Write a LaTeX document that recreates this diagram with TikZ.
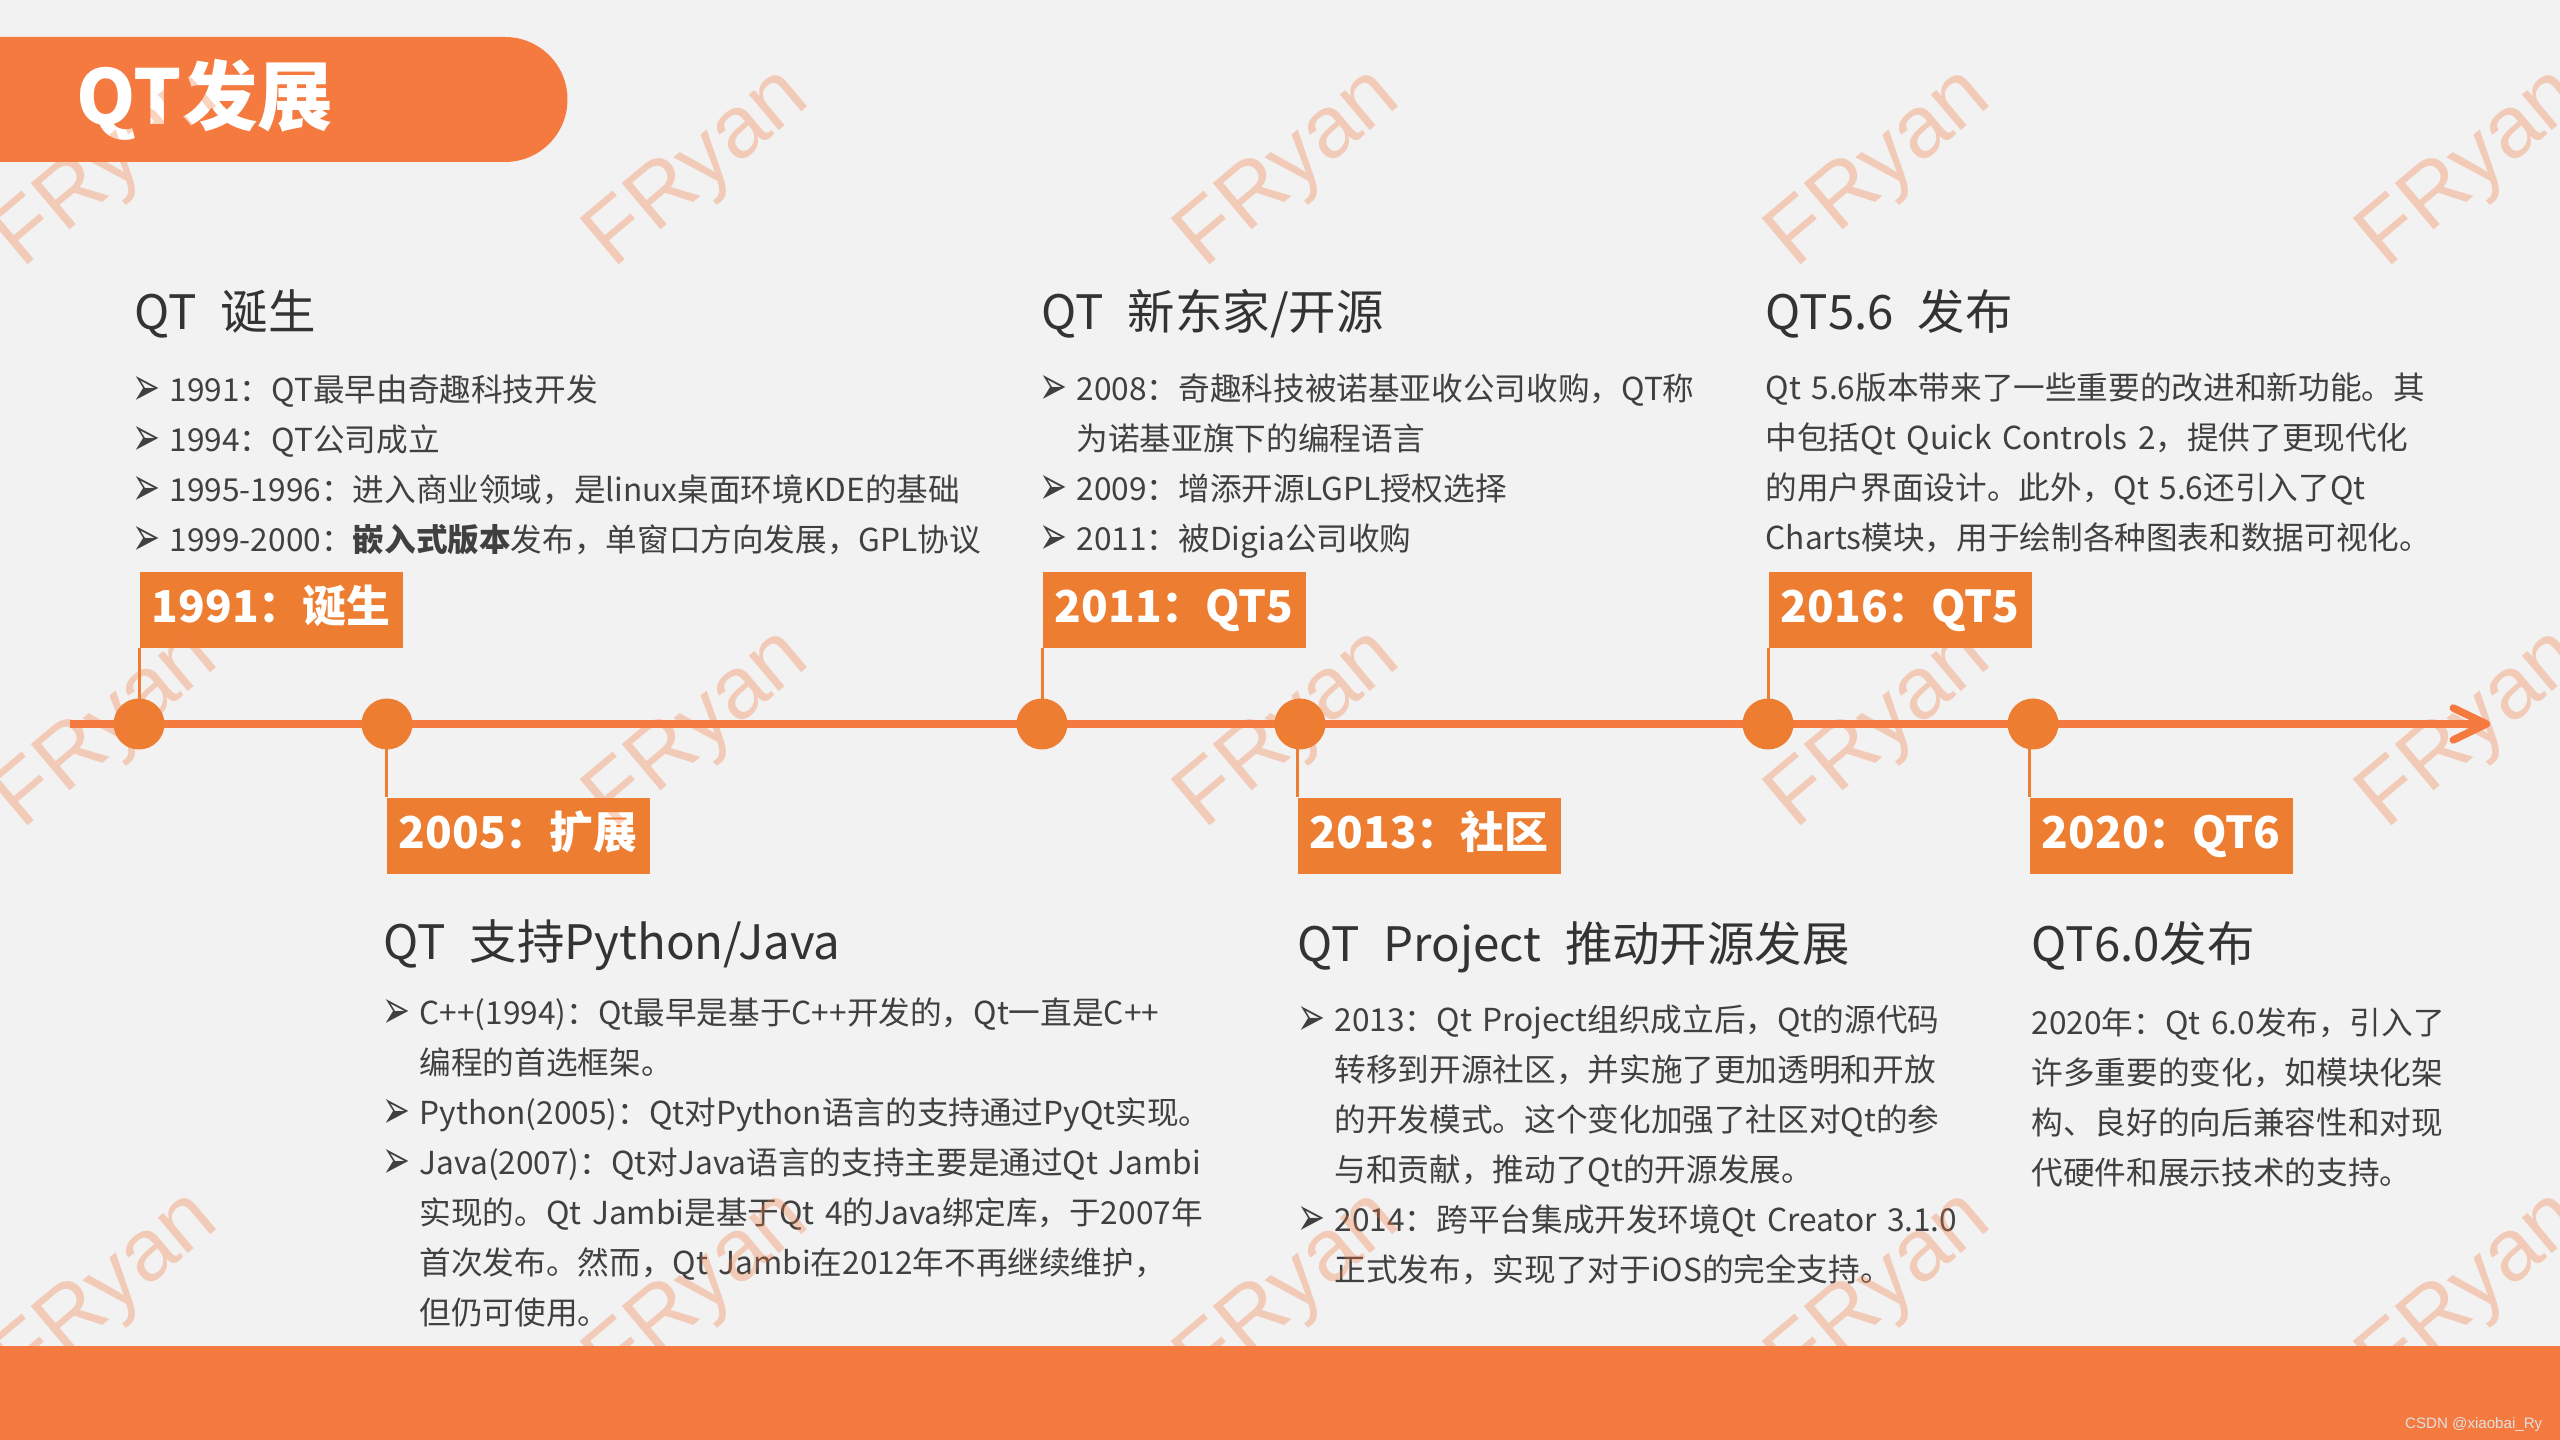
\documentclass[tikz,border=0pt]{standalone}
\usepackage{graphicx}
\usepackage{fontspec}
\setmainfont{Noto Sans CJK SC}
\newfontfamily\bulletfont{DejaVu Sans}
\newfontfamily\wmfont{Liberation Sans}
\usetikzlibrary{arrows.meta}
\definecolor{qtorange}{HTML}{F47A40}
\definecolor{boxorange}{HTML}{ED7D31}
\definecolor{pagegray}{HTML}{F2F2F2}
\definecolor{headgray}{HTML}{333333}
\definecolor{bodygray}{HTML}{404040}
\newcommand{\bul}{\makebox[3.5mm][l]{\hspace*{-0.2mm}\raisebox{-0.4mm}{\resizebox{2.8mm}{2.9mm}{\bulletfont ➢}}}}
\newcommand{\contline}{\hspace*{3.5mm}}
\newcommand{\wgap}{\hspace{0.5em}}

\begin{document}
\begin{tikzpicture}[x=0.1mm,y=-0.1mm,
    axis/.style={draw=qtorange,line width=0.75mm,-{Straight Barb[length=3.3mm,width=3.2mm,round]}},
    dot/.style={circle,fill=boxorange,minimum size=5.1mm,inner sep=0pt},
    yearbox/.style={anchor=north west,fill=boxorange,text=white,minimum width=26.3mm,minimum height=7.6mm,inner sep=0pt,text height=0.73em,text depth=0pt,font=\fontsize{12.5pt}{15pt}\selectfont\bfseries},
    stem/.style={draw=boxorange,line width=0.3mm},
    head/.style={anchor=base west,inner sep=0pt,text=headgray,font=\fontsize{13.5pt}{16pt}\selectfont},
    body/.style={anchor=base west,inner sep=0pt,text width=95mm,align=left,text=bodygray,font=\fontsize{9pt}{14.2pt}\selectfont},
    wmark/.style={anchor=base,rotate=40,inner sep=0pt,text=qtorange,text opacity=0.32,font=\wmfont\fontsize{25pt}{25pt}\selectfont}]
    \path[use as bounding box,fill=pagegray](0,0)rectangle(2560,1440);
    \fill[qtorange](0,37)--(505,37)arc[start angle=90,end angle=-90,radius=6.25mm]--(0,162)--cycle;
    \node[anchor=base west,inner sep=0pt,text=white,font=\fontsize{21.5pt}{22pt}\selectfont\bfseries](title) at(76,125){QT发展};
    \fill[qtorange](0,1346)rectangle(2560,1440);

    \coordinate(tstart) at(70,724);
    \coordinate(tend) at(2490,724);
    \draw[axis](tstart)--(tend);

    \node[dot](d1991) at(139,724){};
    \node[dot](d2005) at(387,724){};
    \node[dot](d2011) at(1042,724){};
    \node[dot](d2013) at(1300,724){};
    \node[dot](d2016) at(1768,724){};
    \node[dot](d2020) at(2033,724){};

    \node[yearbox](y1991) at(139,571){1991：诞生};
    \node[yearbox](y2011) at(1042,571){2011：QT5};
    \node[yearbox](y2016) at(1768,571){2016：QT5};
    \node[yearbox](y2005) at(386,797){2005：扩展};
    \node[yearbox](y2013) at(1297,797){2013：社区};
    \node[yearbox](y2020) at(2029,797){2020：QT6};

    \draw[stem](y1991.south west)--(y1991.south west |- d1991.center);
    \draw[stem](y2011.south west)--(y2011.south west |- d2011.center);
    \draw[stem](y2016.south west)--(y2016.south west |- d2016.center);
    \draw[stem](y2005.north west)--(y2005.north west |- d2005.center);
    \draw[stem](y2013.north west)--(y2013.north west |- d2013.center);
    \draw[stem](y2020.north west)--(y2020.north west |- d2020.center);

    \node[head](h1991) at(134,330){QT\wgap 诞生};
    \node[body](t1991) at(134,402){\bul 1991：QT最早由奇趣科技开发\\
        \bul 1994：QT公司成立\\
        \bul 1995-1996：进入商业领域，是linux桌面环境KDE的基础\\
        \bul 1999-2000：\textbf{嵌入式版本}发布，单窗口方向发展，GPL协议};

    \node[head](h2011) at(1041,330){QT\wgap 新东家/开源};
    \node[body](t2011) at(1041,401){\bul 2008：奇趣科技被诺基亚收公司收购，QT称\\
        \contline 为诺基亚旗下的编程语言\\
        \bul 2009：增添开源LGPL授权选择\\
        \bul 2011：被Digia公司收购};

    \node[head](h2016) at(1765,330){QT5.6\wgap 发布};
    \node[body](t2016) at(1765,400){Qt 5.6版本带来了一些重要的改进和新功能。其\\
        中包括Qt Quick Controls 2，提供了更现代化\\
        的用户界面设计。此外，Qt 5.6还引入了Qt\\
        Charts模块，用于绘制各种图表和数据可视化。};

    \node[head](h2005) at(383,960){QT\wgap 支持Python/Java};
    \node[body](t2005) at(384,1025){\bul C++(1994)：Qt最早是基于C++开发的，Qt一直是C++\\
        \contline 编程的首选框架。\\
        \bul Python(2005)：Qt对Python语言的支持通过PyQt实现。\\
        \bul Java(2007)：Qt对Java语言的支持主要是通过Qt Jambi\\
        \contline 实现的。Qt Jambi是基于Qt 4的Java绑定库，于2007年\\
        \contline 首次发布。然而，Qt Jambi在2012年不再继续维护，\\
        \contline 但仍可使用。};

    \node[head](h2013) at(1297,962){QT\wgap Project\wgap 推动开源发展};
    \node[body](t2013) at(1299,1032){\bul 2013：Qt Project组织成立后，Qt的源代码\\
        \contline 转移到开源社区，并实施了更加透明和开放\\
        \contline 的开发模式。这个变化加强了社区对Qt的参\\
        \contline 与和贡献，推动了Qt的开源发展。\\
        \bul 2014：跨平台集成开发环境Qt Creator 3.1.0\\
        \contline 正式发布，实现了对于iOS的完全支持。};

    \node[head](h2020) at(2031,962){QT6.0发布};
    \node[body](t2020) at(2031,1035){2020年：Qt 6.0发布，引入了\\
        许多重要的变化，如模块化架\\
        构、良好的向后兼容性和对现\\
        代硬件和展示技术的支持。};

    \foreach \wx in {122,713,1304,1895,2486}
        \foreach \wy in {186,747,1309}
            \node[wmark](fr\wx\wy) at(\wx,\wy){FRyan};

    \node[anchor=base east,inner sep=0pt,text=white!88!black,font=\wmfont\fontsize{4.3pt}{5pt}\selectfont](csdn) at(2543,1428){CSDN @xiaobai\_Ry};
\end{tikzpicture}
\end{document}
